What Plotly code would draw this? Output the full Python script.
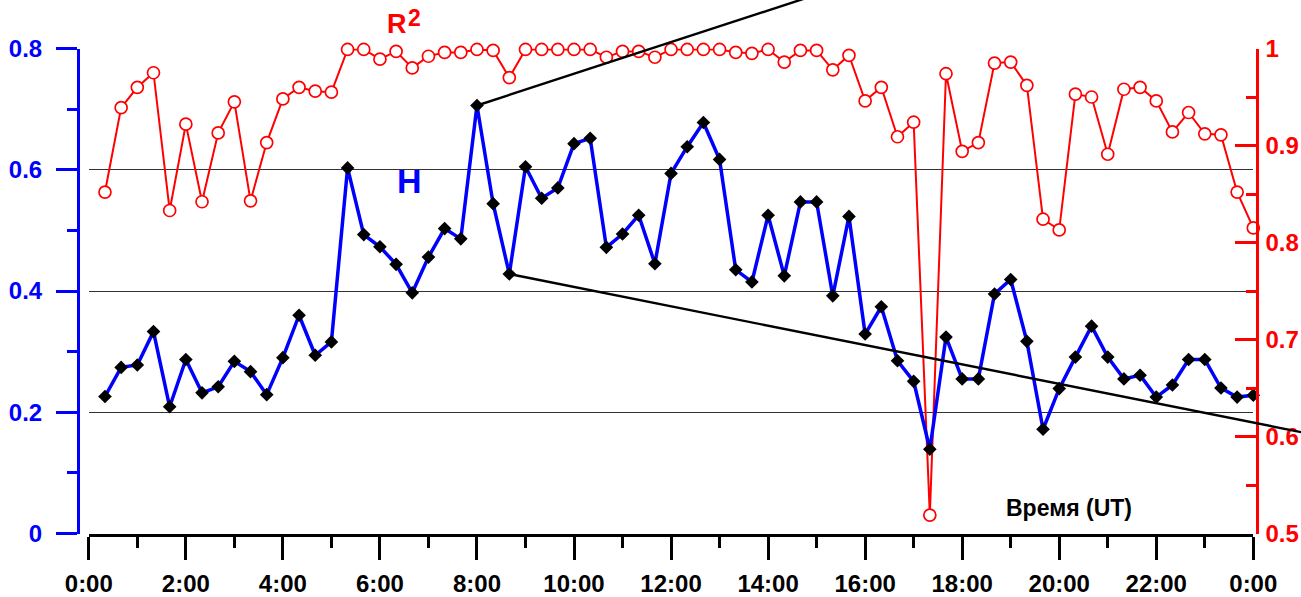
import plotly.graph_objects as go

# ---- data -----------------------------------------------------------------
# sample times (UT), every 20 minutes through the day
time_labels = [
    "0:20", "0:40", "1:00", "1:20", "1:40", "2:00", "2:20", "2:40", "3:00",
    "3:20", "3:40", "4:00", "4:20", "4:40", "5:00", "5:20", "5:40", "6:00",
    "6:20", "6:40", "7:00", "7:20", "7:40", "8:00", "8:20", "8:40", "9:00",
    "9:20", "9:40", "10:00", "10:20", "10:40", "11:00", "11:20", "11:40", "12:00",
    "12:20", "12:40", "13:00", "13:20", "13:40", "14:00", "14:20", "14:40", "15:00",
    "15:20", "15:40", "16:00", "16:20", "16:40", "17:00", "17:20", "17:40", "18:00",
    "18:20", "18:40", "19:00", "19:20", "19:40", "20:00", "20:20", "20:40", "21:00",
    "21:20", "21:40", "22:00", "22:20", "22:40", "23:00", "23:20", "23:40", "24:00",
]

# Hurst exponent H (left axis)
hurst = [
    0.226, 0.274, 0.278, 0.333, 0.209, 0.287, 0.232, 0.242, 0.284,
    0.267, 0.229, 0.290, 0.360, 0.294, 0.316, 0.603, 0.493, 0.473,
    0.444, 0.397, 0.456, 0.503, 0.486, 0.706, 0.544, 0.428, 0.605,
    0.553, 0.570, 0.643, 0.652, 0.472, 0.494, 0.525, 0.445, 0.594,
    0.638, 0.678, 0.617, 0.435, 0.415, 0.525, 0.425, 0.547, 0.547,
    0.392, 0.523, 0.329, 0.374, 0.285, 0.251, 0.139, 0.324, 0.255,
    0.255, 0.395, 0.419, 0.317, 0.172, 0.239, 0.291, 0.342, 0.291,
    0.255, 0.261, 0.225, 0.245, 0.287, 0.287, 0.240, 0.225, 0.228,
]

# coefficient of determination R^2 (right axis)
r_squared = [
    0.852, 0.939, 0.960, 0.975, 0.833, 0.922, 0.842, 0.913, 0.945,
    0.843, 0.903, 0.948, 0.960, 0.956, 0.955, 0.999, 0.999, 0.989,
    0.997, 0.980, 0.992, 0.996, 0.996, 0.999, 0.998, 0.970, 0.999,
    0.999, 0.999, 0.999, 0.999, 0.991, 0.997, 0.997, 0.991, 0.999,
    0.999, 0.999, 0.999, 0.996, 0.995, 0.999, 0.986, 0.998, 0.998,
    0.978, 0.993, 0.946, 0.960, 0.909, 0.924, 0.519, 0.974, 0.894,
    0.903, 0.985, 0.986, 0.962, 0.824, 0.813, 0.953, 0.950, 0.891,
    0.958, 0.960, 0.946, 0.914, 0.934, 0.912, 0.911, 0.852, 0.815,
]

# guide lines: start at two H samples, run off the drawing area
guide_start_index = [23, 25]          # 8:00 and 8:40
guide_end_hour = [16.0, 26.0]
guide_end_value = [0.915, 0.151]

# axis ticks
x_tick_hours = [0, 2, 4, 6, 8, 10, 12, 14, 16, 18, 20, 22, 24]
x_tick_labels = ["0:00", "2:00", "4:00", "6:00", "8:00", "10:00", "12:00",
                 "14:00", "16:00", "18:00", "20:00", "22:00", "0:00"]
x_minor_hours = [1, 3, 5, 7, 9, 11, 13, 15, 17, 19, 21, 23]
h_ticks = [0, 0.2, 0.4, 0.6, 0.8]
h_tick_labels = ["0", "0.2", "0.4", "0.6", "0.8"]
h_minor = [0.1, 0.3, 0.5, 0.7]
r_ticks = [0.5, 0.6, 0.7, 0.8, 0.9, 1.0]
r_tick_labels = ["0.5", "0.6", "0.7", "0.8", "0.9", "1"]
r_minor = [0.55, 0.65, 0.75, 0.85, 0.95]

H_RANGE = [0, 0.8]
R_RANGE = [0.5, 1.0]
X_RANGE = [0, 24]


def to_hours(label):
    h, m = label.split(":")
    return int(h) + int(m) / 60.0


def bold(labels):
    return ["<b>%s</b>" % s for s in labels]


hours = [to_hours(t) for t in time_labels]

# ---- geometry (pixels) ----------------------------------------------------
W, HGT = 1301, 597
PLOT_L, PLOT_R = 88.8, 1253.3
PLOT_T, PLOT_B = 48.5, 533.5
LEFT_AXIS_X, RIGHT_AXIS_X = 78.0, 1256.7

x_dom = [PLOT_L / W, PLOT_R / W]
y_dom = [(HGT - PLOT_B) / HGT, (HGT - PLOT_T) / HGT]

# full-canvas axes sharing the same scale as the main x / H axes
px_per_hour = (PLOT_R - PLOT_L) / (X_RANGE[1] - X_RANGE[0])
px_per_h = (PLOT_B - PLOT_T) / (H_RANGE[1] - H_RANGE[0])
x_full = [X_RANGE[0] - PLOT_L / px_per_hour, X_RANGE[1] + (W - PLOT_R) / px_per_hour]
y_full = [H_RANGE[0] - (HGT - PLOT_B) / px_per_h, H_RANGE[1] + PLOT_T / px_per_h]

FONT = "Liberation Sans, Arial, sans-serif"
BLUE = "#0000FF"
RED = "#FF0000"

fig = go.Figure()

fig.add_trace(go.Scatter(
    x=hours, y=r_squared, xaxis="x", yaxis="y",
    mode="lines+markers",
    line=dict(color=RED, width=2),
    marker=dict(symbol="circle", size=12, color="white",
                line=dict(color=RED, width=1.7)),
    cliponaxis=False, showlegend=False,
))

fig.add_trace(go.Scatter(
    x=hours, y=hurst, xaxis="x", yaxis="y2",
    mode="lines+markers",
    line=dict(color=BLUE, width=3.5),
    marker=dict(symbol="diamond", size=10.5, color="black"),
    cliponaxis=False, showlegend=False,
))

gx, gy = [], []
for i, xe, ye in zip(guide_start_index, guide_end_hour, guide_end_value):
    gx += [hours[i], xe, None]
    gy += [hurst[i], ye, None]
fig.add_trace(go.Scatter(
    x=gx, y=gy, xaxis="x3", yaxis="y3", mode="lines",
    line=dict(color="black", width=2.4), showlegend=False,
))

tick_font = dict(family=FONT, size=24)

fig.update_layout(
    width=W, height=HGT,
    margin=dict(l=0, r=0, t=0, b=0, pad=0),
    paper_bgcolor="white",
    plot_bgcolor="rgba(0,0,0,0)",
    showlegend=False,
    xaxis=dict(
        domain=x_dom, range=X_RANGE, anchor="y",
        showline=True, linecolor="black", linewidth=3,
        ticks="outside", ticklen=23, tickwidth=3, tickcolor="black",
        tickmode="array", tickvals=x_tick_hours, ticktext=bold(x_tick_labels),
        minor=dict(tickmode="array", tickvals=x_minor_hours, ticks="outside",
                   ticklen=11, tickwidth=3, tickcolor="black", showgrid=False),
        tickfont=dict(tick_font, color="black"), ticklabelstandoff=4,
        showgrid=False, zeroline=False, automargin=False,
    ),
    yaxis=dict(
        domain=y_dom, range=R_RANGE, side="right", anchor="free",
        position=RIGHT_AXIS_X / W,
        showline=True, linecolor=RED, linewidth=3,
        ticks="inside", ticklen=21, tickwidth=3, tickcolor=RED,
        tickmode="array", tickvals=r_ticks, ticktext=bold(r_tick_labels),
        minor=dict(tickmode="array", tickvals=r_minor, ticks="inside",
                   ticklen=10, tickwidth=3, tickcolor=RED, showgrid=False),
        tickfont=dict(tick_font, color=RED), ticklabelstandoff=2,
        showgrid=False, zeroline=False, automargin=False,
    ),
    yaxis2=dict(
        overlaying="y", range=H_RANGE, side="left", anchor="free",
        position=LEFT_AXIS_X / W,
        showline=True, linecolor=BLUE, linewidth=3,
        ticks="outside", ticklen=21, tickwidth=3, tickcolor=BLUE,
        tickmode="array", tickvals=h_ticks, ticktext=bold(h_tick_labels),
        minor=dict(tickmode="array", tickvals=h_minor, ticks="outside",
                   ticklen=10, tickwidth=3, tickcolor=BLUE, showgrid=False),
        tickfont=dict(tick_font, color=BLUE), ticklabelstandoff=9,
        showgrid=True, gridcolor="#333333", gridwidth=1,
        zeroline=False, automargin=False,
    ),
    xaxis3=dict(domain=[0, 1], range=x_full, anchor="y3", visible=False),
    yaxis3=dict(domain=[0, 1], range=y_full, anchor="x3", visible=False),
)

# series labels
fig.add_annotation(x=6.6, y=0.581, xref="x", yref="y2", text="<b>H</b>",
                   showarrow=False, xanchor="center", yanchor="middle",
                   font=dict(family=FONT, size=34, color=BLUE))
fig.add_annotation(x=6.36, y=1 - 24 / HGT, xref="x", yref="paper", text="<b>R</b>",
                   showarrow=False, xanchor="center", yanchor="middle",
                   font=dict(family=FONT, size=27, color=RED))
fig.add_annotation(x=6.72, y=1 - 18 / HGT, xref="x", yref="paper", text="<b>2</b>",
                   showarrow=False, xanchor="center", yanchor="middle",
                   font=dict(family=FONT, size=23, color=RED))
# time axis caption
fig.add_annotation(x=20.2, y=0.042, xref="x", yref="y2", text="<b>Время (UT)</b>",
                   showarrow=False, xanchor="center", yanchor="middle",
                   font=dict(family=FONT, size=23, color="black"))

fig.write_html("out.html")
